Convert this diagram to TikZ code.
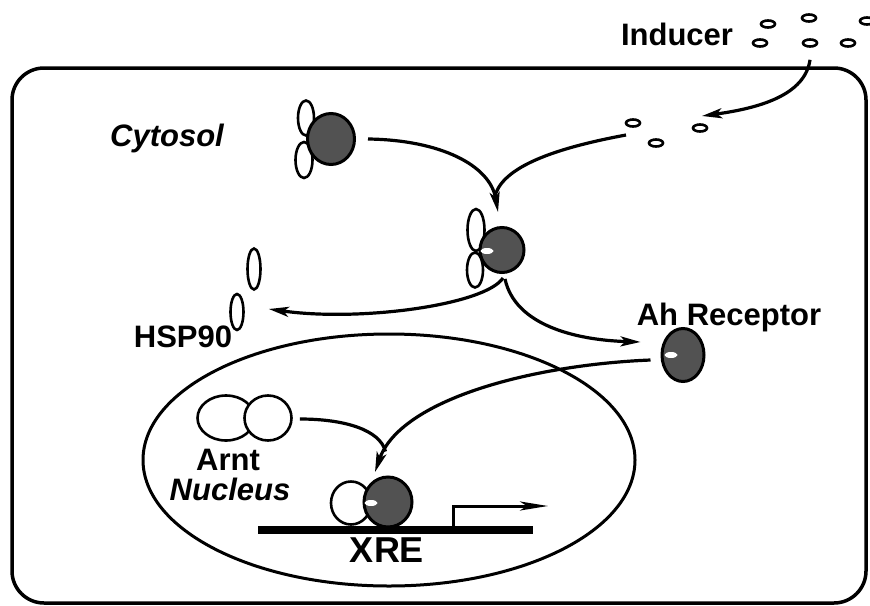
\documentclass[tikz,border=0pt]{standalone}
\usepackage{fontspec}
\setmainfont{Liberation Sans}
\usetikzlibrary{shapes.geometric,arrows.meta,calc}
\definecolor{stipple}{gray}{0.32}
\begin{document}
\begin{tikzpicture}[x=1pt,y=-1pt,
  lbl/.style={anchor=base,inner sep=0pt,font=\fontsize{31}{31}\selectfont\bfseries},
  ilbl/.style={lbl,font=\fontsize{31}{31}\selectfont\bfseries\itshape},
  tip/.style={-{Stealth[length=20pt,width=10pt,inset=5pt]}},
  conn/.style={line width=3.2pt},
  arr/.style={conn,tip},
  mol/.style={ellipse,draw,line width=2.6pt,inner sep=0pt},
  hsp/.style={mol,fill=white},
  ahr/.style={mol,fill=stipple,line width=3pt},
  lig/.style={mol,line width=2.6pt,minimum width=14pt,minimum height=7pt},
  bound/.style={ellipse,fill=white,inner sep=0pt,minimum width=13pt,minimum height=6pt}]

\useasboundingbox (0,0) rectangle (870,605);

% cell membrane and nuclear envelope
\draw[line width=3.5pt,rounded corners=32pt] (12,68) rectangle (866,603);
\draw[line width=3pt] (389,460) ellipse [x radius=246, y radius=126];

% labels
\node[lbl]  (inducer) at (677,45)  {Inducer};
\node[ilbl] (cytosol) at (167,146) {Cytosol};
\node[lbl]  (hsplbl)  at (183,347) {HSP90};
\node[lbl]  (ahrlbl)  at (729,325) {Ah Receptor};
\node[lbl]  (arntlbl) at (228,470) {Arnt};
\node[ilbl] (nuclbl)  at (230,500) {Nucleus};
\node[lbl,font=\fontsize{36}{36}\selectfont\bfseries] (xre) at (387,562) {XRE};

% inducer molecules outside the cell
\node[lig] (i1) at (768,24) {};
\node[lig] (i2) at (809,18) {};
\node[lig] (i3) at (867,21) {};
\node[lig] (i4) at (760,43) {};
\node[lig] (i5) at (810,43) {};
\node[lig] (i6) at (848,43) {};
% inducer molecules in the cytosol
\node[lig] (l1) at (633,123) {};
\node[lig] (l2) at (656,143) {};
\node[lig] (l3) at (700,128) {};

% receptor held by two HSP90
\node[hsp,minimum width=16pt,minimum height=35pt] (h1a) at (306,118) {};
\node[hsp,minimum width=17pt,minimum height=36pt] (h1b) at (304,160) {};
\node[ahr,minimum width=47pt,minimum height=51pt] (r1) at (331,139) {};

% receptor with bound inducer, still holding HSP90
\node[hsp,minimum width=17pt,minimum height=42pt] (h2a) at (476,230) {};
\node[hsp,minimum width=16pt,minimum height=35pt] (h2b) at (475,270) {};
\node[ahr,minimum width=44pt,minimum height=45pt] (r2) at (502,250) {};
\node[bound] (b2) at (487,251) {};

% released HSP90
\node[hsp,minimum width=13pt,minimum height=41pt] (h3a) at (254,269) {};
\node[hsp,minimum width=13pt,minimum height=36pt] (h3b) at (237,312) {};

% free liganded Ah receptor
\node[ahr,minimum width=42pt,minimum height=53pt] (r3) at (683,355) {};
\node[bound] (b3) at (671,355) {};

% Arnt dimer
\node[hsp,minimum width=57pt,minimum height=45pt] (arnt1) at (226,418) {};
\node[hsp,minimum width=47pt,minimum height=45pt] (arnt2) at (268,418) {};

% Arnt / Ah receptor heterodimer on the XRE
\node[hsp,minimum width=40pt,minimum height=43pt] (arnt3) at (351,503) {};
\node[ahr,minimum width=48pt,minimum height=50pt] (r4) at (388,502) {};
\node[bound] (b4) at (371,503) {};

% DNA and transcription start
\coordinate (dnaL) at (258,530);
\coordinate (dnaR) at (533,530);
\draw[line width=8.5pt] (dnaL) -- (dnaR);
\coordinate (tss) at (453,527);
\coordinate (tssup) at (453,506);
\coordinate (tssend) at (548,506);
\draw[line width=3pt,-{Stealth[length=28pt,width=9pt,inset=7pt]}] (tss) -- (tssup) -- (tssend);

% pathway arrows
\coordinate (entry) at (702,116);
\draw[arr] ($(i5.south)+(0,12)$) .. controls (805,95) and (760,108) .. (entry);

\coordinate (merge) at (498,212);
\coordinate (join) at (494.5,198);
\draw[arr] ($(r1.east)+(12,0)$) .. controls (440,140) and (490,165) .. (merge);
\draw[conn] ($(l1)+(-7,12)$) .. controls (545,150) and (500,170) .. (join);

\draw[arr] ($(r2.south)+(1,4)$) .. controls (485,305) and (360,322) .. ($(h3b.east)+(24,-3)$);
\draw[arr] ($(r2.south)+(3,5)$) .. controls (515,325) and (575,340) .. ($(r3.west)+(-20,-13)$);

\coordinate (dock) at (375,472);
\coordinate (dockjoin) at (385.5,451.5);
\draw[arr] ($(r3.west)+(-10,5)$) .. controls (530,365) and (400,400) .. (dock);
\draw[conn] ($(arnt2.east)+(7,1)$) .. controls (345,419) and (380,430) .. (dockjoin);

\end{tikzpicture}
\end{document}
